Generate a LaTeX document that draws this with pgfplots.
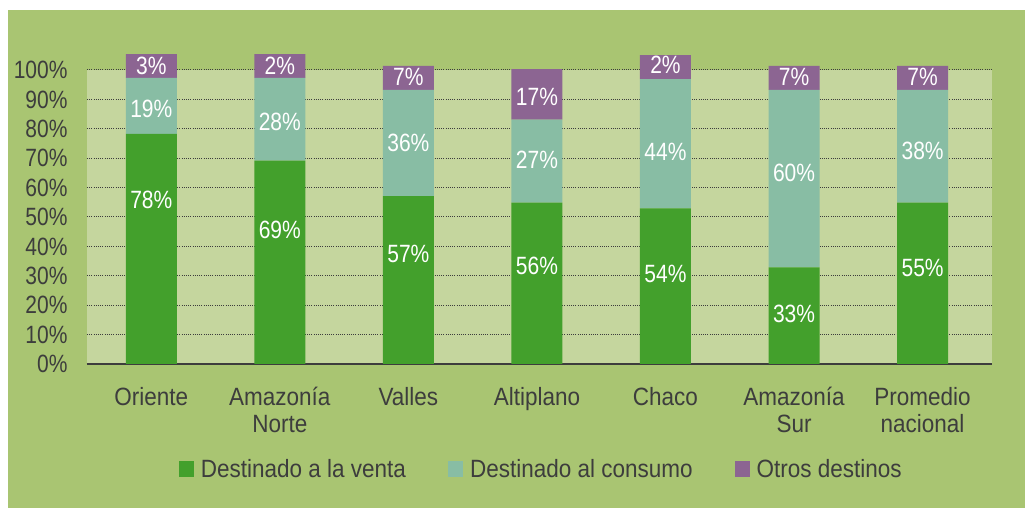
\documentclass[border=0pt]{standalone}
\usepackage{fontspec}
\setmainfont{Liberation Sans}[FakeStretch=0.9]
\newfontfamily\numfont{Liberation Sans}[FakeStretch=0.84]
\usepackage{pgfplots}
\usepackage{pgfplotstable}
\pgfplotsset{compat=1.18}

\definecolor{bgout}{HTML}{A9C572}
\definecolor{bgplot}{HTML}{C5D69E}
\definecolor{cventa}{HTML}{43A02C}
\definecolor{cconsumo}{HTML}{88BDA4}
\definecolor{cotros}{HTML}{8C6592}
\definecolor{txt}{HTML}{3D3D3D}
\newcommand\lbl{\fontsize{25}{26.5}\selectfont}
\newcommand\nlbl{\numfont\fontsize{25}{26.5}\selectfont}

% segment heights as drawn in the source figure
\pgfplotstableread{
x venta consumo otros
0 78.3 19.0 8.1
1 69.2 28.1 8.1
2 57.1 36.1 8.2
3 54.9 28.2 17.2
4 52.9 44.0 8.2
5 32.9 60.3 8.2
6 54.9 38.3 8.2
}\barras

% printed percentages and where they sit
\pgfplotstableread{
x y lab
0 55.7 78
0 86.8 19
0 101.4 3
1 45.5 69
1 82.5 28
1 101.4 2
2 37.3 57
2 75.3 36
2 97.7 7
3 33.2 56
3 69.5 27
3 90.7 17
4 30.5 54
4 72.0 44
4 101.7 2
5 16.9 33
5 65.0 60
5 97.6 7
6 32.5 55
6 72.5 38
6 97.6 7
}\etiquetas

\begin{document}
\begin{tikzpicture}
\fill[white] (-87pt,-144pt) rectangle (938pt,364pt);
\fill[bgout] (-79pt,-144pt) rectangle (938pt,354pt);
\begin{axis}[
  at={(0pt,0pt)}, anchor=south west,
  width=905pt, height=294pt, scale only axis,
  xmin=-0.5, xmax=6.54, ymin=0, ymax=100,
  ybar stacked, bar width=51pt,
  clip=false,
  axis background/.style={fill=bgplot},
  axis line style={draw=none},
  major tick length=0pt,
  ymajorgrids,
  major grid style={draw=txt, line width=1pt, dash pattern=on 1pt off 1.2pt},
  ytick={0,10,...,100},
  yticklabels={0\%,10\%,20\%,30\%,40\%,50\%,60\%,70\%,80\%,90\%,100\%},
  xtick={0,...,6},
  xticklabels={Oriente,{Amazonía\\Norte},Valles,Altiplano,Chaco,{Amazonía\\Sur},{Promedio\\nacional}},
  xticklabel style={align=center, font=\lbl, text=txt, yshift=-20pt},
  yticklabel style={font=\nlbl, text=txt, xshift=-16pt},
  legend style={at={(0.502,-0.357)}, anchor=center, draw=none, fill=none,
    font=\lbl, text=txt,
    /tikz/every odd column/.append style={column sep=5pt},
    /tikz/every even column/.append style={column sep=40pt}},
  legend columns=-1,
  legend image code/.code={\fill[#1,draw=none] (0pt,-8pt) rectangle (15pt,8pt);},
]
\addplot[fill=cventa, draw=none] table[x=x, y=venta] {\barras};
\addlegendentry{Destinado a la venta}
\addplot[fill=cconsumo, draw=none] table[x=x, y=consumo] {\barras};
\addlegendentry{Destinado al consumo}
\addplot[fill=cotros, draw=none] table[x=x, y=otros] {\barras};
\addlegendentry{Otros destinos}
\draw[txt, line width=1.5pt] (axis cs:-0.5,0) -- (axis cs:6.54,0);
\end{axis}
\begin{axis}[
  at={(0pt,0pt)}, anchor=south west,
  width=905pt, height=294pt, scale only axis,
  xmin=-0.5, xmax=6.54, ymin=0, ymax=100,
  hide axis, clip=false,
]
\addplot[draw=none, mark=none, nodes near coords={\pgfplotspointmeta\%},
  point meta=explicit symbolic,
  every node near coord/.append style={anchor=center, yshift=0pt, text=white, font=\nlbl}]
  table[x=x, y=y, meta=lab] {\etiquetas};
\end{axis}
\pgfresetboundingbox
\path[use as bounding box] (-87pt,-144pt) rectangle (938pt,364pt);
\end{tikzpicture}
\end{document}
